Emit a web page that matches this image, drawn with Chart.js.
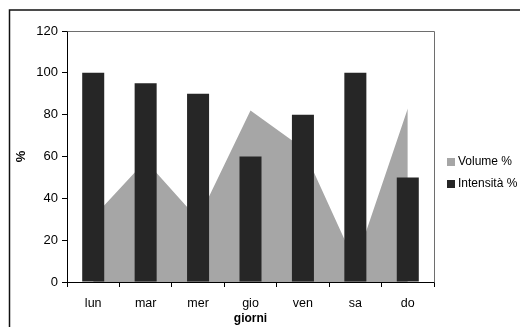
<!DOCTYPE html>
<html>
<head>
<meta charset="utf-8">
<script src="https://cdn.jsdelivr.net/npm/chart.js@4/dist/chart.umd.min.js"></script>
<style>
  html, body { margin: 0; padding: 0; background: #fff; }
  #wrap { position: relative; width: 520px; height: 327px; }
</style>
</head>
<body>
<div id="wrap"><canvas id="c" width="520" height="327"></canvas></div>
<script>
// Giorni della settimana
const days = ['lun', 'mar', 'mer', 'gio', 'ven', 'sa', 'do'];
// Volume % (area)
const volume = [31, 58, 30, 82, 64, 9, 83];
// Intensità % (colonne)
const intensita = [100, 95, 90, 60, 80, 100, 50];
// Etichette asse Y
const yTicks = [0, 20, 40, 60, 80, 100, 120];

const FONT = '"Liberation Sans", Arial, Helvetica, sans-serif';

// Outer frame and plot-area border (top/right)
const framePlugin = {
  id: 'frame',
  beforeDraw(chart) {
    const ctx = chart.ctx;
    ctx.save();
    ctx.fillStyle = '#fff';
    ctx.fillRect(0, 0, chart.width, chart.height);
    ctx.strokeStyle = '#111';
    ctx.lineWidth = 1.5;
    ctx.strokeRect(9.5, 10, chart.width + 20, chart.height + 20);
    ctx.restore();
  },
  beforeDatasetsDraw(chart) {
    const {ctx, chartArea: a} = chart;
    ctx.save();
    ctx.strokeStyle = '#6e6e6e';
    ctx.lineWidth = 1;
    ctx.beginPath();
    ctx.moveTo(Math.round(a.left) + 0.5, Math.round(a.top) + 0.5);
    ctx.lineTo(Math.round(a.right) + 0.5, Math.round(a.top) + 0.5);
    ctx.lineTo(Math.round(a.right) + 0.5, Math.round(a.bottom) + 0.5);
    ctx.stroke();
    ctx.restore();
  }
};

// Legend on the right, built from the datasets
const legendPlugin = {
  id: 'sideLegend',
  afterDraw(chart) {
    const ctx = chart.ctx;
    const x = 447, y0 = 162, gap = 22;
    ctx.save();
    ctx.font = '12px ' + FONT;
    ctx.textBaseline = 'middle';
    ctx.textAlign = 'left';
    chart.data.datasets.forEach((ds, i) => {
      const y = y0 + i * gap;
      ctx.fillStyle = ds.legendColor;
      ctx.fillRect(x, y - 4, 8, 8);
      ctx.fillStyle = '#000';
      ctx.fillText(ds.label, x + 11, y);
    });
    ctx.restore();
  }
};

new Chart(document.getElementById('c'), {
  type: 'bar',
  data: {
    labels: days,
    datasets: [
      {
        type: 'line',
        label: 'Volume %',
        data: volume,
        backgroundColor: '#a6a6a6',
        legendColor: '#a6a6a6',
        borderWidth: 0,
        pointRadius: 0,
        tension: 0,
        fill: 'origin',
        order: 2
      },
      {
        type: 'bar',
        label: 'Intensità %',
        data: intensita,
        backgroundColor: '#262626',
        legendColor: '#262626',
        borderWidth: 0,
        categoryPercentage: 1,
        barPercentage: 0.42,
        order: 1
      }
    ]
  },
  options: {
    responsive: false,
    animation: false,
    devicePixelRatio: 1,
    layout: { padding: { left: 0, right: 86, top: 31, bottom: 0 } },
    plugins: {
      legend: { display: false },
      tooltip: { enabled: false }
    },
    scales: {
      x: {
        offset: true,
        grid: { display: true, drawOnChartArea: false, drawTicks: true, tickLength: 5, color: '#000', offset: true },
        border: { display: true, color: '#000', width: 1 },
        ticks: { color: '#000', font: { family: FONT, size: 12.5 }, padding: 9, maxRotation: 0 },
        title: { display: true, text: 'giorni', color: '#000', font: { family: FONT, size: 12, weight: 'bold' }, padding: { top: 0, bottom: 1 } },
        afterFit(scale) { scale.height = 45; }
      },
      y: {
        min: 0,
        max: 120,
        afterBuildTicks(scale) { scale.ticks = yTicks.map(v => ({ value: v })); },
        grid: { display: true, drawOnChartArea: false, drawTicks: true, tickLength: 5, color: '#000' },
        border: { display: true, color: '#000', width: 1 },
        ticks: { color: '#000', font: { family: FONT, size: 13 }, padding: 4 },
        title: { display: true, text: '%', color: '#000', font: { family: FONT, size: 13, weight: 'bold' }, padding: { top: 14, bottom: 0 } },
        afterFit(scale) { scale.width = 67; }
      }
    }
  },
  plugins: [framePlugin, legendPlugin]
});
</script>
</body>
</html>
